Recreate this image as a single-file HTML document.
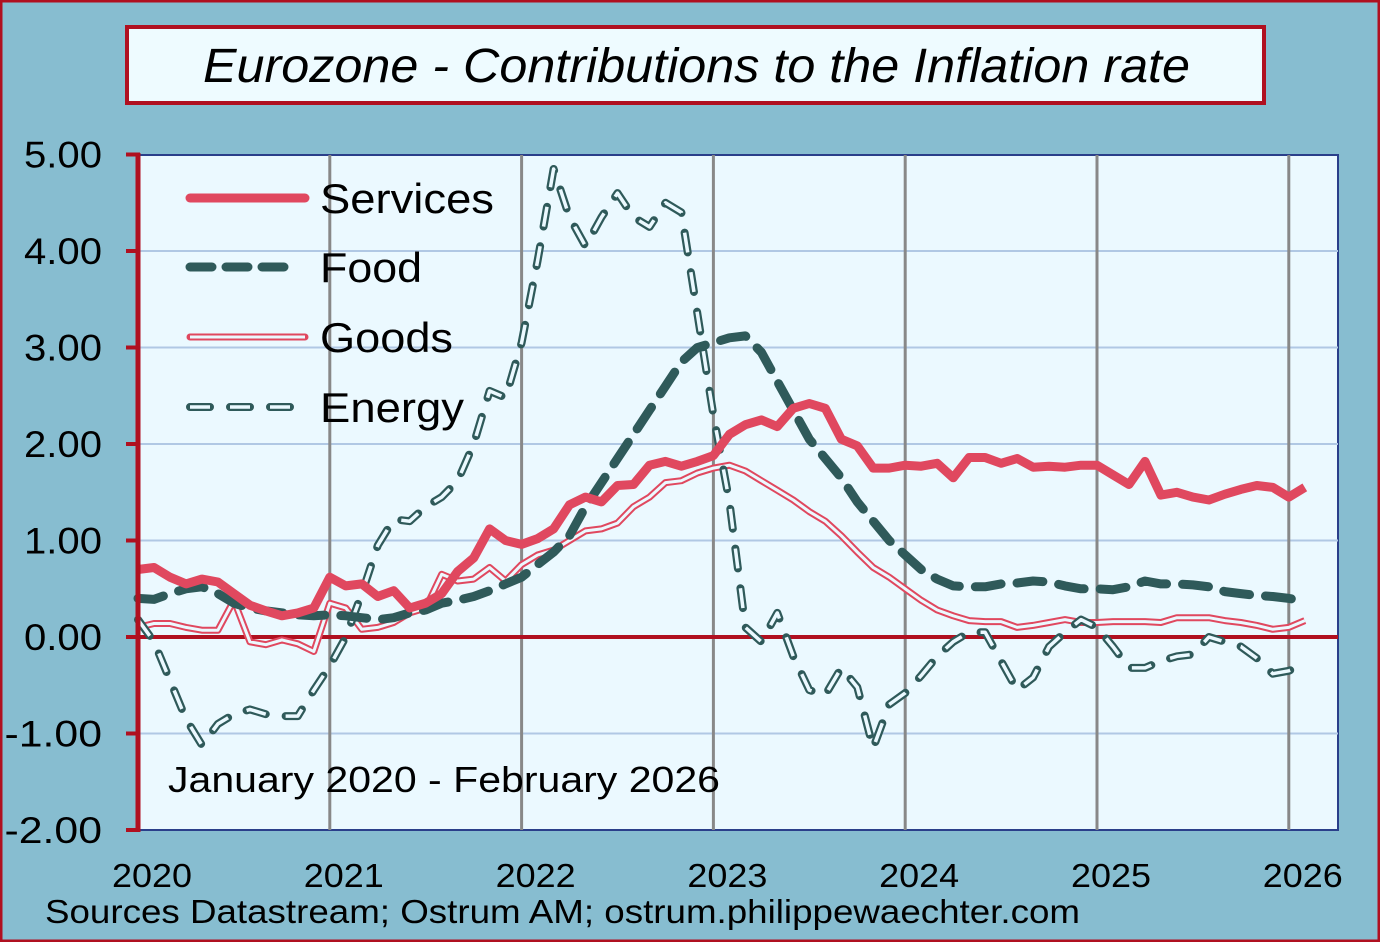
<!DOCTYPE html>
<html><head><meta charset="utf-8"><style>
body{margin:0;background:#87bdd0;}
svg{display:block;font-family:"Liberation Sans",sans-serif;}
</style></head><body>
<svg width="1380" height="942" viewBox="0 0 1380 942">
<rect x="1" y="1" width="1378" height="940" fill="#87bdd0" stroke="#b01020" stroke-width="3"/>
<rect x="127" y="27" width="1137" height="76" fill="#eefbff" stroke="#b01020" stroke-width="4"/>
<text x="203" y="82" font-size="48" font-style="italic" fill="#000" textLength="987" lengthAdjust="spacingAndGlyphs">Eurozone - Contributions to the Inflation rate</text>
<rect x="138" y="155" width="1200" height="675" fill="#ebf9ff" stroke="#2a3f8a" stroke-width="2"/>
<g id="grid"></g>
<g id="series"></g>
<g id="axes"></g>
<g>
<line x1="190" y1="198" x2="305" y2="198" stroke="#e0485f" stroke-width="9" stroke-linecap="round"/>
<text x="320" y="213" font-size="42" textLength="174" lengthAdjust="spacingAndGlyphs">Services</text>
<line x1="190" y1="267" x2="292" y2="267" stroke="#2f5a5a" stroke-width="9" stroke-dasharray="22 14" stroke-linecap="round"/>
<text x="320" y="282" font-size="42" textLength="102" lengthAdjust="spacingAndGlyphs">Food</text>
<line x1="190" y1="337" x2="305" y2="337" stroke="#e0485f" stroke-width="7" stroke-linecap="round"/>
<line x1="190" y1="337" x2="305" y2="337" stroke="#ebf9ff" stroke-width="3"/>
<text x="320" y="352" font-size="42" textLength="133" lengthAdjust="spacingAndGlyphs">Goods</text>
<line x1="190" y1="407" x2="292" y2="407" stroke="#2f5a5a" stroke-width="8" stroke-dasharray="20 20" stroke-linecap="round"/>
<line x1="190" y1="407" x2="292" y2="407" stroke="#ebf9ff" stroke-width="3.5" stroke-dasharray="20 20"/>
<text x="320" y="422" font-size="42" textLength="144" lengthAdjust="spacingAndGlyphs">Energy</text>
</g>
<text x="168" y="792" font-size="36" textLength="552" lengthAdjust="spacingAndGlyphs">January 2020 - February 2026</text>
<text x="45" y="923" font-size="33" textLength="1035" lengthAdjust="spacingAndGlyphs">Sources Datastream;  Ostrum AM; ostrum.philippewaechter.com</text>
</svg>
<script>
const yTicks=[5,4,3,2,1,0,-1,-2];
const yTickLabels=["5.00","4.00","3.00","2.00","1.00","0.00","-1.00","-2.00"];
const xYears=[2020,2021,2022,2023,2024,2025,2026];
const services=[0.70,0.72,0.62,0.55,0.60,0.57,0.45,0.33,0.27,0.22,0.25,0.30,
0.62,0.53,0.55,0.42,0.48,0.30,0.35,0.45,0.68,0.82,1.12,1.00,
0.96,1.02,1.12,1.37,1.45,1.40,1.57,1.58,1.78,1.82,1.77,1.82,
1.88,2.10,2.20,2.25,2.18,2.37,2.42,2.37,2.05,1.98,1.75,1.75,
1.78,1.77,1.80,1.65,1.86,1.86,1.80,1.85,1.76,1.77,1.76,1.78,
1.78,1.68,1.58,1.82,1.47,1.50,1.45,1.42,1.48,1.53,1.57,1.55,
1.45,1.55];
const food=[0.40,0.39,0.45,0.50,0.52,0.45,0.35,0.30,0.27,0.25,0.23,0.22,
0.23,0.22,0.20,0.18,0.20,0.25,0.28,0.35,0.38,0.42,0.48,0.55,
0.62,0.75,0.88,1.05,1.35,1.60,1.85,2.10,2.35,2.60,2.85,3.00,
3.05,3.10,3.12,2.95,2.65,2.35,2.05,1.85,1.65,1.40,1.20,1.00,
0.85,0.70,0.60,0.53,0.52,0.52,0.55,0.56,0.58,0.57,0.53,0.50,
0.50,0.49,0.52,0.58,0.55,0.55,0.54,0.52,0.47,0.45,0.43,0.42,
0.40,0.37];
const goods=[0.10,0.14,0.14,0.10,0.07,0.07,0.38,-0.05,-0.08,-0.03,-0.07,-0.15,
0.35,0.30,0.08,0.10,0.15,0.25,0.30,0.65,0.58,0.60,0.72,0.58,
0.75,0.85,0.90,1.00,1.10,1.12,1.18,1.35,1.45,1.60,1.62,1.70,
1.75,1.78,1.72,1.62,1.52,1.42,1.30,1.20,1.05,0.88,0.72,0.62,
0.50,0.38,0.28,0.22,0.17,0.16,0.16,0.10,0.12,0.15,0.18,0.15,
0.15,0.16,0.16,0.16,0.15,0.20,0.20,0.20,0.17,0.15,0.12,0.08,
0.10,0.17];
const energy=[0.18,-0.05,-0.45,-0.85,-1.12,-0.90,-0.80,-0.75,-0.80,-0.82,-0.82,-0.55,
-0.30,0.00,0.45,0.95,1.22,1.20,1.35,1.45,1.62,2.00,2.55,2.48,
3.05,3.90,4.85,4.35,4.05,4.35,4.60,4.35,4.25,4.50,4.40,3.35,
2.30,1.40,0.10,-0.05,0.25,-0.20,-0.55,-0.60,-0.32,-0.52,-1.15,-0.70,
-0.58,-0.40,-0.20,-0.05,0.05,0.05,-0.25,-0.55,-0.42,-0.10,0.05,0.18,
0.10,-0.10,-0.32,-0.32,-0.25,-0.20,-0.18,0.00,-0.05,-0.10,-0.22,-0.38,
-0.35,-0.28];
const X0=138,Y0=637,PXY=191.8,PXV=96.5;
function xm(i){return X0+i*PXY/12;}
function yv(v){return Y0-v*PXV;}
const NS="http://www.w3.org/2000/svg";
function mk(tag,attrs,parent){const e=document.createElementNS(NS,tag);for(const k in attrs)e.setAttribute(k,attrs[k]);parent.appendChild(e);return e;}
const grid=document.getElementById('grid'),ser=document.getElementById('series'),axes=document.getElementById('axes');
yTicks.forEach((t,k)=>{
 if(t!==0&&t!==5&&t!==-2){const l=mk('line',{x1:X0,x2:1338,y1:yv(t),y2:yv(t),stroke:'#b0c8e4','stroke-width':2},grid);
 
 }
 const tk=mk('line',{x1:126,x2:140,y1:yv(t),y2:yv(t),stroke:'#b01020','stroke-width':4},axes);
 
 
 const lab=yTickLabels[k];
 const tx=mk('text',{x:102,y:yv(t)+13,'text-anchor':'end','font-size':37,textLength:lab.length*19.5,lengthAdjust:'spacingAndGlyphs'},axes);
 tx.textContent=lab;
 
 
});
xYears.forEach((yr,k)=>{
 const x=X0+k*PXY;
 if(k>0){const l=mk('line',{x1:x,x2:x,y1:155,y2:830,stroke:'#888','stroke-width':3},grid);
 
 }
 const tx=mk('text',{x:x+14,y:887,'text-anchor':'middle','font-size':33,textLength:80,lengthAdjust:'spacingAndGlyphs'},axes);
 tx.textContent=yr;
 
 
});
const zl=mk('line',{x1:X0,x2:1338,y1:yv(0),y2:yv(0),stroke:'#b01020','stroke-width':4},grid);


const ax=mk('line',{x1:X0,x2:X0,y1:153,y2:832,stroke:'#b01020','stroke-width':5},axes);


function pts(arr){return arr.map((v,i)=>xm(i).toFixed(1)+','+yv(v).toFixed(1)).join(' ');}
function line(arr,attrs,name){const p=mk('polyline',Object.assign({points:pts(arr),fill:'none','stroke-linejoin':'round'},attrs),ser);
 
 }
line(goods,{stroke:'#e0485f','stroke-width':7},'goods-line');
line(goods,{stroke:'#ebf9ff','stroke-width':3},'goods-line-inner');
line(energy,{stroke:'#2f5a5a','stroke-width':8,'stroke-dasharray':'20 20','stroke-linecap':'round'},'energy-line');
line(energy,{stroke:'#ebf9ff','stroke-width':3.5,'stroke-dasharray':'20 20'},'energy-line-inner');
line(food,{stroke:'#2f5a5a','stroke-width':9,'stroke-dasharray':'26 16','stroke-linecap':'round'},'food-line');
line(services,{stroke:'#e0485f','stroke-width':9},'services-line');
</script>
</body></html>
